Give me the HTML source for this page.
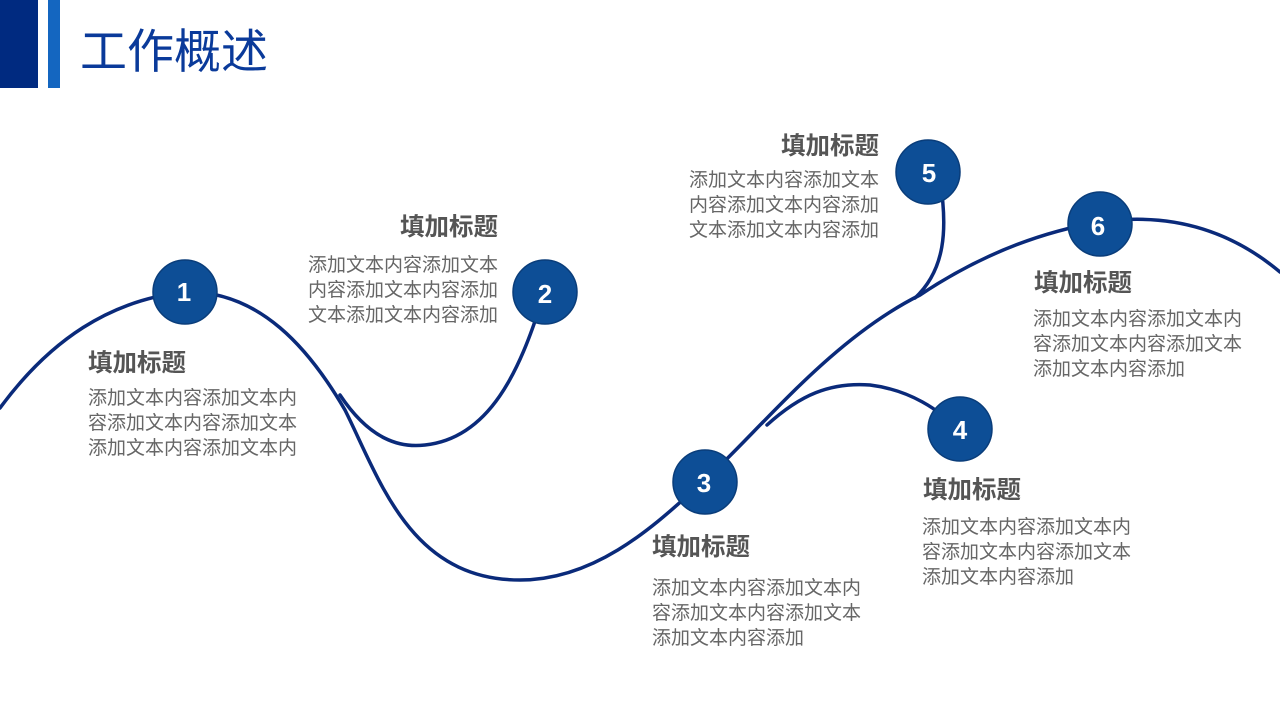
<!DOCTYPE html>
<html><head><meta charset="utf-8"><style>
body{margin:0;width:1280px;height:720px;background:#fff;overflow:hidden;position:relative;font-family:"Liberation Sans","Noto Sans CJK SC",sans-serif}
.t{position:absolute;font-size:24.5px;font-weight:bold;color:#555;line-height:30px;white-space:nowrap}
.b{position:absolute;font-size:19px;color:#666;line-height:25px;white-space:nowrap}
.r{text-align:right}
</style></head><body>
<div style="position:absolute;left:0;top:0;width:38px;height:88px;background:#002a80"></div>
<div style="position:absolute;left:48px;top:0;width:12px;height:88px;background:#1466c0"></div>
<div style="position:absolute;left:80px;top:23px;font-size:47px;color:#0a3a9a;line-height:58px;white-space:nowrap">工作概述</div>
<svg width="1280" height="720" style="position:absolute;left:0;top:0">
<g fill="none" stroke="#0a2a7a" stroke-width="3.5" stroke-linecap="round">
<path d="M0,408 C50,340 110,300 185,292 C260,290 310,350 345,410 C380,480 410,580 520,580 C600,580 660,520 703,482 C760,430 830,340 920,295 C980,255 1040,232 1100,222 C1170,212 1230,230 1280,272"/>
<path d="M340,395 C370,440 400,448 425,445 C490,438 520,370 542,300"/>
<path d="M767,425 C800,395 830,382 870,385 C910,390 940,410 958,430"/>
<path d="M915,298 C945,270 948,230 940,180"/>
</g>
<g fill="#0d4e96" stroke="#0a3d7a" stroke-width="1.5">
<circle cx="185" cy="292" r="32"/><circle cx="545" cy="292" r="32"/><circle cx="705" cy="482" r="32"/>
<circle cx="960" cy="429" r="32"/><circle cx="928" cy="172" r="32"/><circle cx="1100" cy="224" r="32"/>
</g>
<g fill="#fff" font-size="26" font-weight="bold" text-anchor="middle" font-family="Liberation Sans,sans-serif">
<text x="184" y="301">1</text><text x="545" y="303">2</text><text x="704" y="492">3</text>
<text x="960" y="439">4</text><text x="929" y="182">5</text><text x="1098" y="235">6</text>
</g>
</svg>
<div class="t" style="left:88px;top:349px">填加标题</div>
<div class="b" style="left:88px;top:386px">添加文本内容添加文本内<br>容添加文本内容添加文本<br>添加文本内容添加文本内</div>
<div class="t r" style="right:782px;top:213px">填加标题</div>
<div class="b r" style="right:782px;top:253px">添加文本内容添加文本<br>内容添加文本内容添加<br>文本添加文本内容添加</div>
<div class="t r" style="right:401px;top:132px">填加标题</div>
<div class="b r" style="right:401px;top:168px">添加文本内容添加文本<br>内容添加文本内容添加<br>文本添加文本内容添加</div>
<div class="t" style="left:652px;top:533px">填加标题</div>
<div class="b" style="left:652px;top:576px">添加文本内容添加文本内<br>容添加文本内容添加文本<br>添加文本内容添加</div>
<div class="t" style="left:923px;top:476px">填加标题</div>
<div class="b" style="left:922px;top:515px">添加文本内容添加文本内<br>容添加文本内容添加文本<br>添加文本内容添加</div>
<div class="t" style="left:1034px;top:269px">填加标题</div>
<div class="b" style="left:1033px;top:307px">添加文本内容添加文本内<br>容添加文本内容添加文本<br>添加文本内容添加</div>
</body></html>
